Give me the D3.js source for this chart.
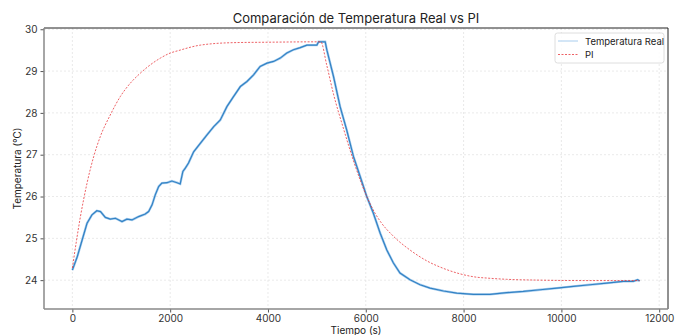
<!DOCTYPE html>
<html><head><meta charset="utf-8">
<script src="https://cdn.jsdelivr.net/npm/d3@7"></script>
<style>body{margin:0;background:#fff}svg{display:block;font-family:Inter,"Noto Sans",sans-serif}</style>
</head><body><svg id="c" width="686" height="335"></svg>
<script>
const blueTime = [0,100,200,300,400,500,575,675,775,880,1015,1115,1220,1355,1490,1560,1630,1695,1765,1830,1935,2035,2140,2205,2260,2310,2375,2480,2615,2750,2890,3025,3160,3295,3435,3570,3705,3840,3980,4115,4250,4385,4520,4660,4795,5000,5035,5170,5205,5340,5475,5610,5750,5885,6020,6155,6295,6430,6565,6700,6905,7110,7315,7590,7860,8200,8540,8880,9220,9565,9905,10245,10585,10925,11265,11470,11560,11600];
const blueTemp = [24.24,24.56,24.96,25.36,25.56,25.66,25.64,25.50,25.46,25.48,25.40,25.46,25.44,25.52,25.58,25.64,25.80,26.04,26.24,26.32,26.33,26.37,26.33,26.30,26.6,26.68,26.80,27.07,27.27,27.47,27.67,27.83,28.15,28.39,28.63,28.75,28.91,29.11,29.19,29.23,29.31,29.43,29.51,29.56,29.62,29.62,29.70,29.70,29.50,28.87,28.15,27.59,26.95,26.48,26.0,25.6,25.12,24.72,24.41,24.17,24.01,23.89,23.81,23.74,23.69,23.66,23.66,23.70,23.73,23.77,23.81,23.85,23.89,23.93,23.97,23.97,24.01,23.98];
const piTime = [0,165,300,435,570,775,980,1185,1390,1595,1800,2000,2170,2615,3300,4000,5080,5200,5340,5545,5750,5900,6020,6190,6300,6565,6905,7250,7590,7930,8270,8475,8880,9565,10500,11600];
const piTemp = [24.29,25.52,26.32,26.95,27.43,27.95,28.39,28.71,28.95,29.15,29.31,29.43,29.49,29.62,29.68,29.69,29.70,29.15,28.45,27.62,26.85,26.35,26.0,25.6,25.40,25.05,24.72,24.46,24.28,24.15,24.07,24.05,24.02,24.0,23.99,23.99];
const xTicks = [0,2000,4000,6000,8000,10000,12000];
const yTicks = [24,25,26,27,28,29,30];
const seriesNames = ["Temperatura Real","PI"];

const svg = d3.select("#c");
const L=44,R=668,T=28,B=309;
const x = d3.scaleLinear().domain([-580,12180]).range([L,R]);
const y = d3.scaleLinear().domain([23.31,30.03]).range([B,T]);

// grid
const g = svg.append("g");
g.selectAll(".gx").data(xTicks).join("line").attr("x1",d=>x(d)).attr("x2",d=>x(d)).attr("y1",T).attr("y2",B)
 .attr("stroke","#e3e3e3").attr("stroke-width",0.8).attr("stroke-dasharray","2,2");
g.selectAll(".gy").data(yTicks).join("line").attr("y1",d=>y(d)).attr("y2",d=>y(d)).attr("x1",L).attr("x2",R)
 .attr("stroke","#e3e3e3").attr("stroke-width",0.8).attr("stroke-dasharray","2,2");

// axes
const xa = svg.append("g").attr("transform",`translate(0,${B})`).call(d3.axisBottom(x).tickValues(xTicks).tickSize(3.5).tickPadding(2).tickFormat(d3.format("d")));
const ya = svg.append("g").attr("transform",`translate(${L},0)`).call(d3.axisLeft(y).tickValues(yTicks).tickSize(3.5).tickPadding(3).tickFormat(d3.format("d")));
[xa,ya].forEach(a=>{a.select(".domain").remove();a.selectAll("text").attr("font-size",10).attr("fill","#333").attr("font-family","Inter, sans-serif");a.selectAll(".tick line").attr("stroke","#555");});

// spines
svg.append("line").attr("x1",L).attr("x2",R).attr("y1",T).attr("y2",T).attr("stroke","#222").attr("stroke-width",1);
svg.append("line").attr("x1",R).attr("x2",R).attr("y1",T).attr("y2",B).attr("stroke","#222").attr("stroke-width",1);
svg.append("line").attr("x1",L).attr("x2",L).attr("y1",T).attr("y2",B).attr("stroke","#888").attr("stroke-width",1.5);
svg.append("line").attr("x1",L).attr("x2",R).attr("y1",B).attr("y2",B).attr("stroke","#888").attr("stroke-width",1.5);

// series
const blue = blueTime.map((t,i)=>[t,blueTemp[i]]);
const pi = piTime.map((t,i)=>[t,piTemp[i]]);
const bl = d3.line().x(d=>x(d[0])).y(d=>y(d[1]));
svg.append("path").datum(blue).attr("fill","none").attr("stroke","#a8cdee").attr("stroke-width",2.4).attr("d",bl);
svg.append("path").datum(blue).attr("fill","none").attr("stroke","#3282c4").attr("stroke-width",1.2).attr("d",bl);
svg.append("path").datum(pi).attr("fill","none").attr("stroke","#e8383d").attr("stroke-width",0.8).attr("stroke-dasharray","2,1.5")
 .attr("d",d3.line().curve(d3.curveMonotoneX).x(d=>x(d[0])).y(d=>y(d[1])));

// title and labels
svg.append("text").attr("x",356).attr("y",23).attr("text-anchor","middle").attr("font-size",13).attr("fill","#222").text("Comparación de Temperatura Real vs PI");
svg.append("text").attr("x",356).attr("y",334).attr("text-anchor","middle").attr("font-size",10).attr("fill","#222").text("Tiempo (s)");
svg.append("text").attr("transform","translate(21,168.5) rotate(-90)").attr("text-anchor","middle").attr("font-size",10).attr("fill","#222").text("Temperatura (°C)");

// legend
const lg = svg.append("g");
lg.append("rect").attr("x",555).attr("y",33).attr("width",109).attr("height",30).attr("rx",2.5).attr("fill","#fff").attr("fill-opacity",0.85).attr("stroke","#d5d5d5").attr("stroke-width",0.8);
lg.append("line").attr("x1",558).attr("x2",578).attr("y1",41).attr("y2",41).attr("stroke","#a8cdee").attr("stroke-width",1);
lg.append("line").attr("x1",558).attr("x2",578).attr("y1",54.5).attr("y2",54.5).attr("stroke","#e8383d").attr("stroke-width",0.8).attr("stroke-dasharray","2,1.5");
lg.selectAll("text.l").data(seriesNames).join("text").attr("x",585).attr("y",(d,i)=>44.5+i*13.5).attr("font-size",9.5).attr("fill","#222").text(d=>d);
</script></body></html>
